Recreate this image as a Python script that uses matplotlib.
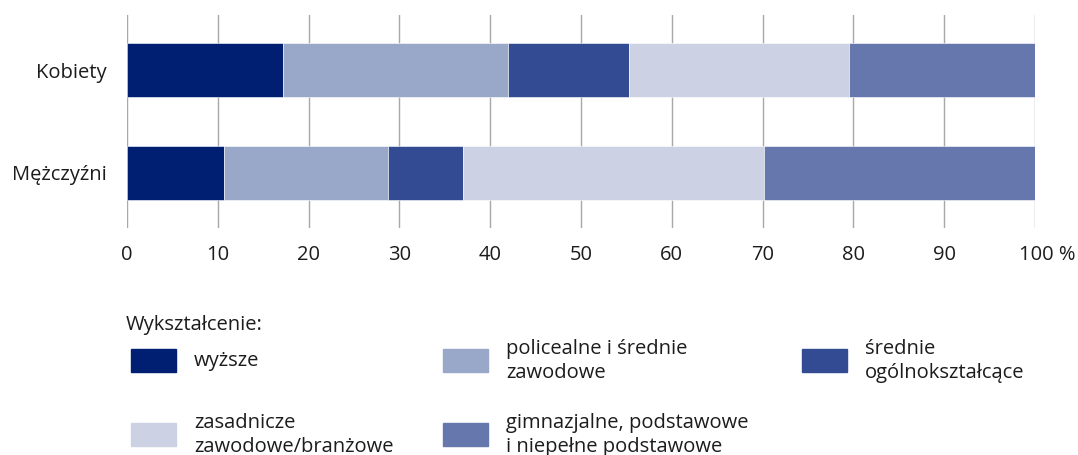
import numpy as np
import matplotlib.pyplot as plt
from matplotlib.patches import Rectangle
from matplotlib.transforms import ScaledTranslation

plt.rcParams['font.family'] = ['Open Sans', 'DejaVu Sans']

# data
groups = ['Mężczyźni', 'Kobiety']
categories = ['wyższe', 'policealne i średnie\nzawodowe', 'średnie\nogólnokształcące',
              'zasadnicze\nzawodowe/branżowe', 'gimnazjalne, podstawowe\ni niepełne podstawowe']
men = [10.7, 18.1, 8.2, 33.2, 29.8]
women = [17.2, 24.8, 13.3, 24.2, 20.5]
colors = ['#001e72', '#99a7c9', '#334b93', '#ccd2e4', '#6677ad']
ticks = [0, 10, 20, 30, 40, 50, 60, 70, 80, 90, 100]

FS = 14.5
TXT = '#1c1c1c'

fig = plt.figure(figsize=(10.78, 4.55), dpi=100)
ax = fig.add_axes([0.1178, 0.499, 0.8423, 0.468])

values = np.array([men, women])
left = np.zeros(2)
for i, c in enumerate(categories):
    ax.barh([0, 1], values[:, i], left=left, height=0.52, color=colors[i],
            edgecolor='white', linewidth=0.4, zorder=3)
    left += values[:, i]

ax.set_xlim(0, 100)
ax.set_ylim(-0.534, 1.534)
ax.set_yticks([0, 1])
ax.set_yticklabels(groups, fontsize=FS)
ax.set_xticks(ticks)
labels = [str(t) for t in ticks]
labels[-1] = '100 %'
ax.set_xticklabels(labels, fontsize=FS)
ax.tick_params(axis='both', length=0, colors=TXT)
ax.tick_params(axis='x', pad=12)
ax.tick_params(axis='y', pad=14.5)
xl = ax.get_xticklabels()[-1]
xl.set_transform(xl.get_transform() + ScaledTranslation(12 / 100, 0, fig.dpi_scale_trans))
ax.grid(axis='x', color='#a8a8a8', linewidth=1, zorder=0)
for s in ax.spines.values():
    s.set_visible(False)

# legend drawn by hand
W, H = 1078, 455
fig.text(126 / W, 1 - 325 / H, 'Wykształcenie:', fontsize=FS, va='center', color=TXT)
pos = [(131, 361), (443, 361), (802, 361), (131, 435), (443, 435)]
for (px, py), lab, col in zip(pos, categories, colors):
    fig.add_artist(Rectangle((px / W, 1 - (py + 11) / H), 45 / W, 23 / H,
                             transform=fig.transFigure, color=col))
    fig.text((px + 63) / W, 1 - py / H, lab, fontsize=FS, va='center',
             linespacing=1.25, color=TXT)

fig.savefig('out.png', dpi=100)
